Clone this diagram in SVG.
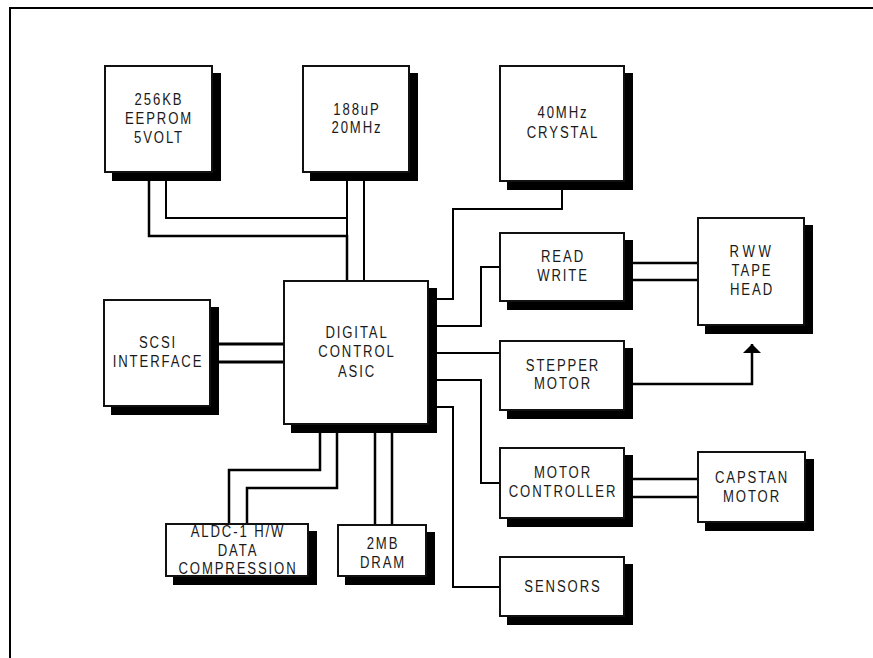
<svg xmlns="http://www.w3.org/2000/svg" width="873" height="658" viewBox="0 0 873 658">
<style>
.sh{fill:#000}
.bx{fill:#fff;stroke:#111;stroke-width:2}
.ln{fill:none;stroke:#000;stroke-width:2}
.tk{stroke-width:2.5}
.tx{font-family:"Liberation Sans",Arial,Helvetica,sans-serif;font-size:16px;letter-spacing:2.3px;fill:#1a1a1a;text-anchor:middle}
.frame{fill:none;stroke:#000;stroke-width:2}
</style>
<defs>
<marker id="arr" viewBox="0 0 18 9" refX="9" refY="0" markerWidth="18" markerHeight="9" markerUnits="userSpaceOnUse" orient="0">
<polygon points="0,9 9,0 18,9" fill="#000"/>
</marker>
</defs>
<rect width="873" height="658" fill="#fff"/>
<path class="frame" d="M10,658 V8 H873"/>
<g id="connectors">
<path class="ln" d="M166,181 V218 H348"/>
<path class="ln tk" d="M149,181 V236 H347 V280"/>
<path class="ln" d="M347,181 V280"/>
<path class="ln" d="M364,181 V280"/>
<path class="ln" d="M562,190 V209 H453 V299 H437"/>
<path class="ln" d="M437,326 H481 V267 H499"/>
<path class="ln tk" d="M633,263 H697 M633,280 H697"/>
<path class="ln" d="M437,353 H499"/>
<path class="ln tk" d="M633,384 H752 V344" marker-end="url(#arr)"/>
<path class="ln" d="M437,380 H481 V483 H499"/>
<path class="ln" d="M437,407 H453 V587 H499"/>
<path class="ln tk" d="M633,479 H697 M633,497 H697"/>
<path class="ln" style="stroke-width:3" d="M219,344 H283 M219,362 H283"/>
<path class="ln tk" d="M320,433 V470 H229 V523"/>
<path class="ln tk" d="M337,433 V488 H247 V523"/>
<path class="ln tk" d="M375,433 V524 M392,433 V524"/>
</g>
<g id="eeprom">
<rect class="sh" x="112" y="73" width="109" height="108"/>
<rect class="bx" x="105" y="66" width="107" height="106"/>
<text class="tx" transform="matrix(0.82,0,0,1,159,0)"><tspan x="0" y="105">256KB</tspan><tspan x="0" y="124">EEPROM</tspan><tspan x="0" y="143">5VOLT</tspan></text>
</g>
<g id="cpu">
<rect class="sh" x="310" y="73" width="108" height="108"/>
<rect class="bx" x="303" y="66" width="106" height="106"/>
<text class="tx" transform="matrix(0.82,0,0,1,357,0)"><tspan x="0" y="115">188uP</tspan><tspan x="0" y="133">20MHz</tspan></text>
</g>
<g id="crystal">
<rect class="sh" x="507" y="73" width="126" height="117"/>
<rect class="bx" x="500" y="66" width="124" height="115"/>
<text class="tx" transform="matrix(0.82,0,0,1,563,0)"><tspan x="0" y="118">40MHz</tspan><tspan x="0" y="138">CRYSTAL</tspan></text>
</g>
<g id="readwrite">
<rect class="sh" x="507" y="240" width="126" height="70"/>
<rect class="bx" x="500" y="233" width="124" height="68"/>
<text class="tx" transform="matrix(0.82,0,0,1,563,0)"><tspan x="0" y="262">READ</tspan><tspan x="0" y="281">WRITE</tspan></text>
</g>
<g id="tapehead">
<rect class="sh" x="705" y="225" width="108" height="109"/>
<rect class="bx" x="698" y="218" width="106" height="107"/>
<text class="tx" transform="matrix(0.82,0,0,1,752,0)"><tspan x="0" y="257" style="letter-spacing:4.5px">RWW</tspan><tspan x="0" y="276">TAPE</tspan><tspan x="0" y="295">HEAD</tspan></text>
</g>
<g id="scsi">
<rect class="sh" x="111" y="307" width="108" height="108"/>
<rect class="bx" x="104" y="300" width="106" height="106"/>
<text class="tx" transform="matrix(0.82,0,0,1,158,0)"><tspan x="0" y="348">SCSI</tspan><tspan x="0" y="367">INTERFACE</tspan></text>
</g>
<g id="asic">
<rect class="sh" x="291" y="288" width="146" height="145"/>
<rect class="bx" x="284" y="281" width="144" height="143"/>
<text class="tx" transform="matrix(0.82,0,0,1,357,0)"><tspan x="0" y="338">DIGITAL</tspan><tspan x="0" y="357">CONTROL</tspan><tspan x="0" y="377">ASIC</tspan></text>
</g>
<g id="stepper">
<rect class="sh" x="507" y="348" width="126" height="71"/>
<rect class="bx" x="500" y="341" width="124" height="69"/>
<text class="tx" transform="matrix(0.82,0,0,1,563,0)"><tspan x="0" y="371">STEPPER</tspan><tspan x="0" y="389">MOTOR</tspan></text>
</g>
<g id="motorctl">
<rect class="sh" x="507" y="455" width="126" height="72"/>
<rect class="bx" x="500" y="448" width="124" height="70"/>
<text class="tx" transform="matrix(0.82,0,0,1,563,0)"><tspan x="0" y="478">MOTOR</tspan><tspan x="0" y="497">CONTROLLER</tspan></text>
</g>
<g id="capstan">
<rect class="sh" x="705" y="459" width="109" height="72"/>
<rect class="bx" x="698" y="452" width="107" height="70"/>
<text class="tx" transform="matrix(0.82,0,0,1,752,0)"><tspan x="0" y="483">CAPSTAN</tspan><tspan x="0" y="502">MOTOR</tspan></text>
</g>
<g id="sensors">
<rect class="sh" x="507" y="564" width="126" height="61"/>
<rect class="bx" x="500" y="557" width="124" height="59"/>
<text class="tx" transform="matrix(0.82,0,0,1,563,0)"><tspan x="0" y="592">SENSORS</tspan></text>
</g>
<g id="aldc">
<rect class="sh" x="173" y="531" width="144" height="54"/>
<rect class="bx" x="166" y="524" width="142" height="52"/>
<text class="tx" transform="matrix(0.82,0,0,1,238,0)"><tspan x="0" y="537">ALDC-1 H/W</tspan><tspan x="0" y="556">DATA</tspan><tspan x="0" y="574">COMPRESSION</tspan></text>
</g>
<g id="dram">
<rect class="sh" x="345" y="532" width="90" height="53"/>
<rect class="bx" x="338" y="525" width="88" height="51"/>
<text class="tx" transform="matrix(0.82,0,0,1,383,0)"><tspan x="0" y="549">2MB</tspan><tspan x="0" y="568">DRAM</tspan></text>
</g>
</svg>
